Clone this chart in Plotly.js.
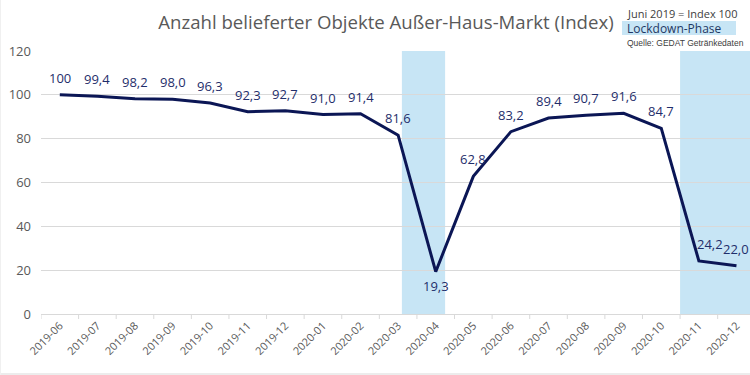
<!DOCTYPE html>
<html>
<head>
<meta charset="utf-8">
<script src="https://cdn.plot.ly/plotly-3.0.1.min.js"></script>
<style>html,body{margin:0;padding:0;background:#fff;}#chart{width:750px;height:375px;}</style>
</head>
<body>
<div id="chart"></div>
<script>
const months = ["2019-06","2019-07","2019-08","2019-09","2019-10","2019-11","2019-12","2020-01","2020-02","2020-03","2020-04","2020-05","2020-06","2020-07","2020-08","2020-09","2020-10","2020-11","2020-12"];
const indexValues = [100, 99.4, 98.2, 98.0, 96.3, 92.3, 92.7, 91.0, 91.4, 81.6, 19.3, 62.8, 83.2, 89.4, 90.7, 91.6, 84.7, 24.2, 22.0];
const labelPlacement = ["above","above","above","above","above","above","above","above","above","above","below","above","above","above","above","above","above","above-right","above"];
const yTicks = [0, 20, 40, 60, 80, 100, 120];
const lockdowns = [[9.1, 10.25], [16.5, 18.36]];

const labels = indexValues.map(v => v === 100 ? "100" : v.toFixed(1).replace(".", ","));
const L = 41, R = 750, T = 51, B = 314;
const px = x => (x - L) / (R - L);
const py = y => (B - y) / (B - T);

const trace = {
  x: months.map((m, i) => i),
  y: indexValues,
  type: "scatter",
  mode: "lines",
  line: {color: "#0b1655", width: 3},
  hoverinfo: "skip"
};

const shapes = lockdowns.map(d => ({
  type: "rect", xref: "x", yref: "y", x0: d[0], x1: d[1], y0: 0, y1: 120,
  fillcolor: "#c7e5f5", line: {width: 0}, layer: "below"
}));
shapes.push({type: "rect", xref: "paper", yref: "paper", x0: px(622), x1: px(736), y0: py(35), y1: py(21),
  fillcolor: "#c7e5f5", line: {width: 0}});
shapes.push({type: "line", xref: "paper", yref: "paper", x0: px(0), x1: px(750), y0: py(374), y1: py(374),
  line: {color: "#ececec", width: 2}});
shapes.push({type: "line", xref: "paper", yref: "paper", x0: px(0.5), x1: px(0.5), y0: py(0), y1: py(375),
  line: {color: "#f0f0f0", width: 1}});

for (let i = 0; i <= months.length; i++) {
  const b = i - 0.5;
  if (b <= 18.36) shapes.push({type: "line", xref: "x", yref: "paper", x0: b, x1: b, y0: 0, y1: -5 / (B - T),
    line: {color: "#d9d9d9", width: 1}});
}

const dataLabels = indexValues.map((v, i) => {
  const p = labelPlacement[i];
  return {
    xref: "x", yref: "y", x: i, y: v, text: labels[i], showarrow: false,
    xanchor: "center", yanchor: "middle",
    yshift: p === "below" ? -14 : 17,
    xshift: p === "above-right" ? 11 : 0,
    font: {family: "Open Sans", size: 13, color: "#1f2e6b"}
  };
});

const layout = {
  width: 750, height: 375,
  margin: {l: L, r: 750 - R, t: T, b: 375 - B},
  paper_bgcolor: "#ffffff", plot_bgcolor: "rgba(0,0,0,0)",
  showlegend: false,
  font: {family: "Open Sans", color: "#595959"},
  title: {text: "Anzahl belieferter Objekte Außer-Haus-Markt (Index)", xref: "container", yref: "container",
    x: 386 / 750, xanchor: "center", y: 1 - 22 / 375, yanchor: "middle",
    font: {family: "Open Sans", size: 18.6, color: "#595959"}},
  xaxis: {
    type: "linear", range: [-0.5, 18.36],
    tickmode: "array", tickvals: months.map((m, i) => i), ticktext: months,
    tickangle: -45, tickfont: {size: 11, color: "#595959"},
    showgrid: false, zeroline: false,
    showline: true, linecolor: "#d9d9d9", linewidth: 1,
    ticks: "", fixedrange: true
  },
  yaxis: {
    range: [0, 120], tickmode: "array", tickvals: yTicks, ticktext: yTicks.map(String),
    tickfont: {size: 13, color: "#595959"}, ticklabelstandoff: 9,
    showgrid: true, gridcolor: "#d9d9d9", gridwidth: 1,
    zeroline: false, showline: false, ticks: "", fixedrange: true
  },
  shapes: shapes,
  annotations: dataLabels.concat([
    {xref: "paper", yref: "paper", x: px(625), y: py(13), xanchor: "left", yanchor: "middle", showarrow: false,
     text: "Juni 2019 = Index 100", font: {family: "Open Sans", size: 11, color: "#404040"}},
    {xref: "paper", yref: "paper", x: px(625), y: py(28.5), xanchor: "left", yanchor: "middle", showarrow: false,
     text: "Lockdown-Phase", font: {family: "Open Sans", size: 12, color: "#1f3864"}},
    {xref: "paper", yref: "paper", x: px(625), y: py(43), xanchor: "left", yanchor: "middle", showarrow: false,
     text: "Quelle: GEDAT Getränkedaten", font: {family: "Liberation Sans", size: 8.5, color: "#404040"}}
  ])
};

Plotly.newPlot("chart", [trace], layout, {displayModeBar: false, staticPlot: true});
</script>
</body>
</html>
